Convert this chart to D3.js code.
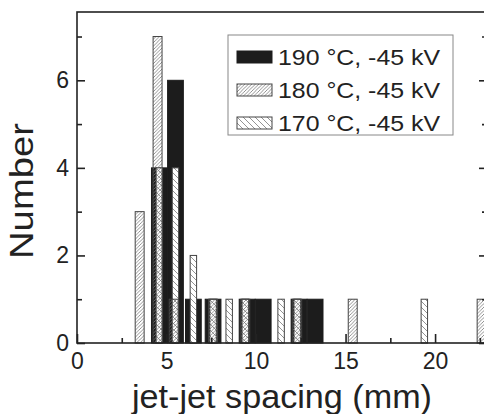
<!DOCTYPE html>
<html>
<head>
<meta charset="utf-8">
<script src="https://cdn.jsdelivr.net/npm/d3@7"></script>
<style>
  body { margin: 0; background: #fff; }
  svg text { font-family: "Liberation Sans", Arial, sans-serif; fill: #222; }
</style>
</head>
<body>
<div id="chart"></div>
<script>
// ----- data -----
let seriesNames = ["190 \u00B0C, -45 kV", "180 \u00B0C, -45 kV", "170 \u00B0C, -45 kV"];

let spacing190 = [4.6, 5.5, 6.5, 7.6, 9.5, 10.4, 12.4, 13.3];
let count190 = [4, 6, 1, 1, 1, 1, 1, 1];

let spacing180 = [3.5, 4.5, 5.4, 7.6, 9.4, 12.3, 15.4, 22.6];
let count180 = [3, 7, 1, 1, 1, 1, 1, 1];

let spacing170 = [4.6, 5.5, 6.5, 7.6, 8.5, 9.4, 11.4, 12.3, 19.4];
let count170 = [4, 4, 2, 1, 1, 1, 1, 1, 1];

let xTicks = [0, 5, 10, 15, 20];
let xMinor = [2.5, 7.5, 12.5, 17.5, 22.5];
let yTicks = [0, 2, 4, 6];
let yMinor = [1, 3, 5, 7];

// ----- chart -----
let svgWidth = 484;
let svgHeight = 414;

let svg = d3.select("#chart")
    .append("svg")
    .attr("width", svgWidth)
    .attr("height", svgHeight);

let defs = svg.append("defs");

// dense "////" hatch
defs.append("pattern")
    .attr("id", "dense")
    .attr("patternUnits", "userSpaceOnUse")
    .attr("width", 3.5)
    .attr("height", 3.5)
    .append("path")
    .attr("d", "M-1,1 l2,-2 M0,3.5 l3.5,-3.5 M2.5,4.5 l2,-2")
    .attr("stroke", "#777")
    .attr("stroke-width", 0.8);

// sparse "\\\\" hatch
let sparse = defs.append("pattern")
    .attr("id", "sparse")
    .attr("patternUnits", "userSpaceOnUse")
    .attr("width", 6)
    .attr("height", 6);
sparse.append("rect").attr("width", 6).attr("height", 6).attr("fill", "#fff");
sparse.append("path")
    .attr("d", "M0,0 l6,6 M-1,5 l2,2 M5,-1 l2,2")
    .attr("stroke", "#777")
    .attr("stroke-width", 0.8);

let x = d3.scaleLinear().domain([0, 22.9]).range([77, 487]);
let y = d3.scaleLinear().domain([0, 7.56]).range([343, 12]);

let plot = svg.append("g");

function drawBars(xs, ns, w, fill, stroke) {
    plot.append("g")
        .selectAll("rect")
        .data(xs)
        .enter()
        .append("rect")
        .attr("x", d => x(d - w / 2))
        .attr("width", d => x(d + w / 2) - x(d - w / 2))
        .attr("y", (d, i) => y(ns[i]))
        .attr("height", (d, i) => y(0) - y(ns[i]))
        .attr("fill", fill)
        .attr("stroke", stroke)
        .attr("stroke-width", 1);
}

drawBars(spacing190, count190, 0.88, "#1c1c1c", "#1c1c1c");
drawBars(spacing170, count170, 0.36, "url(#sparse)", "#444");
drawBars(spacing180, count180, 0.5, "url(#dense)", "#444");

// frame
svg.append("rect")
    .attr("x", x(0))
    .attr("y", y(7.56))
    .attr("width", x(22.9) - x(0))
    .attr("height", y(0) - y(7.56))
    .attr("fill", "none")
    .attr("stroke", "#222")
    .attr("stroke-width", 1.6);

// axes, ticks point inward
let axisX = d3.axisBottom(x).tickValues(xTicks).tickSize(-9).tickPadding(10);
let axisXm = d3.axisBottom(x).tickValues(xMinor).tickSize(-5).tickFormat("");
let axisY = d3.axisLeft(y).tickValues(yTicks).tickSize(-8).tickPadding(8);
let axisYm = d3.axisLeft(y).tickValues(yMinor).tickSize(-5).tickFormat("");
let axisR = d3.axisRight(y).tickValues(yTicks).tickSize(-8).tickFormat("");
let axisRm = d3.axisRight(y).tickValues(yMinor).tickSize(-5).tickFormat("");

function styleAxis(g) {
    g.select(".domain").remove();
    g.selectAll("line").attr("stroke", "#222").attr("stroke-width", 1.6);
    g.selectAll("text").style("font-size", "23px").attr("fill", "#222");
}

svg.append("g").attr("transform", `translate(0, ${y(0)})`).call(axisX).call(styleAxis);
svg.append("g").attr("transform", `translate(0, ${y(0)})`).call(axisXm).call(styleAxis);
svg.append("g").attr("transform", `translate(${x(0)}, 0)`).call(axisY).call(styleAxis);
svg.append("g").attr("transform", `translate(${x(0)}, 0)`).call(axisYm).call(styleAxis);
svg.append("g").attr("transform", `translate(${x(22.9)}, 0)`).call(axisR).call(styleAxis);
svg.append("g").attr("transform", `translate(${x(22.9)}, 0)`).call(axisRm).call(styleAxis);

// axis titles
svg.append("text")
    .attr("x", 282)
    .attr("y", 408)
    .attr("text-anchor", "middle")
    .attr("textLength", 300)
    .attr("lengthAdjust", "spacingAndGlyphs")
    .style("font-size", "33px")
    .text("jet-jet spacing (mm)");

svg.append("text")
    .attr("transform", "translate(33, 191) rotate(-90)")
    .attr("text-anchor", "middle")
    .attr("textLength", 136)
    .attr("lengthAdjust", "spacingAndGlyphs")
    .style("font-size", "33px")
    .text("Number");

// legend
let legend = svg.append("g");
legend.append("rect")
    .attr("x", 228)
    .attr("y", 35)
    .attr("width", 225)
    .attr("height", 100)
    .attr("fill", "#fff")
    .attr("stroke", "#888")
    .attr("stroke-width", 1);

let swatchFills = ["#1c1c1c", "url(#dense)", "url(#sparse)"];
let rowY = [57, 90, 123];

seriesNames.forEach((name, i) => {
    legend.append("rect")
        .attr("x", 237)
        .attr("y", rowY[i] - 6)
        .attr("width", 35)
        .attr("height", 12)
        .attr("fill", swatchFills[i])
        .attr("stroke", i == 0 ? "#1c1c1c" : "#444");
    legend.append("text")
        .attr("x", 278)
        .attr("y", rowY[i])
        .attr("dy", "0.36em")
        .attr("textLength", 162)
        .attr("lengthAdjust", "spacingAndGlyphs")
        .style("font-size", "22px")
        .text(name);
});
</script>
</body>
</html>
